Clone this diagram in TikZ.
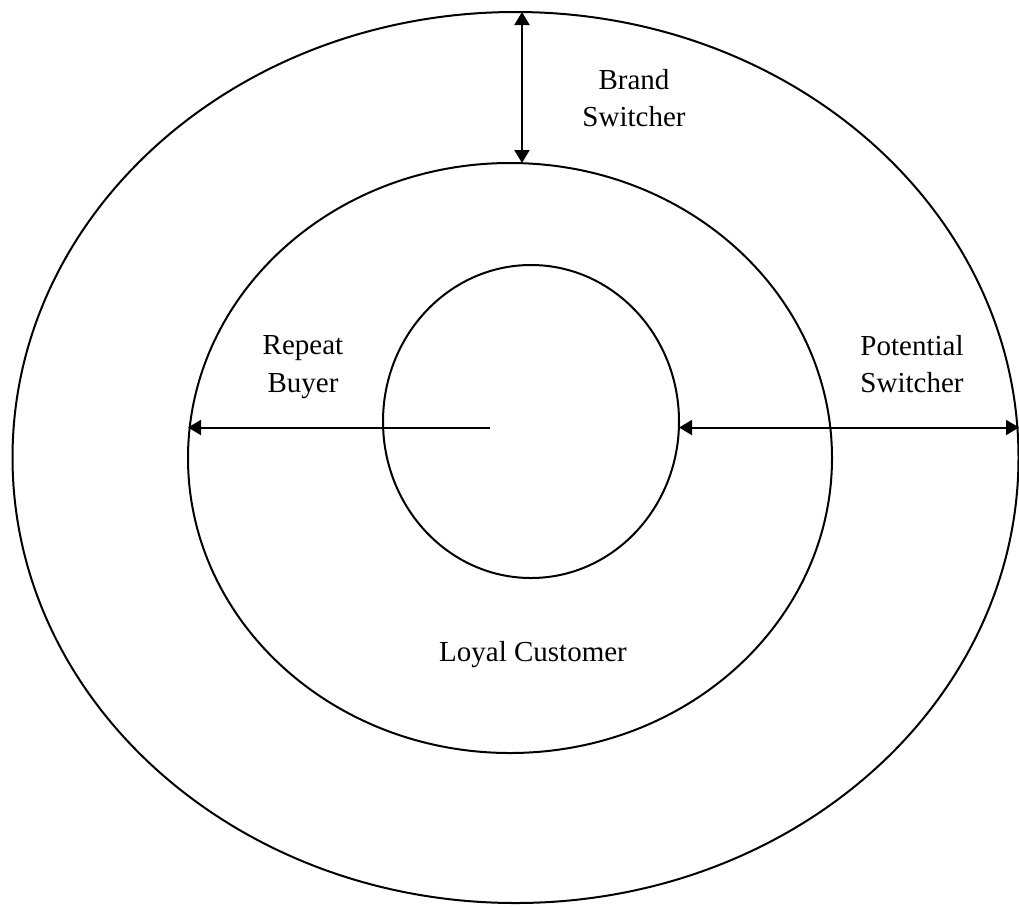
\documentclass[tikz,border=0pt]{standalone}
\usepackage{fontspec}
\setmainfont{Liberation Serif}
\usetikzlibrary{arrows.meta}
\begin{document}
\begin{tikzpicture}[x=1pt,y=-1pt,
  ring/.style={draw=black,line width=2pt},
  tip/.style={line width=2pt,arrows={-Triangle[length=13pt,width=15pt]}},
  bitip/.style={line width=2pt,arrows={Triangle[length=13pt,width=15pt]-Triangle[length=13pt,width=15pt]}},
  label/.style={inner sep=0pt,align=center,font=\fontsize{29}{37.5}\selectfont}]
\useasboundingbox (0,0) rectangle (1019,906);
% three nested rings
\draw[ring] (515.5,457.5) ellipse [x radius=503, y radius=445.5];
\draw[ring] (510,458) ellipse [x radius=322, y radius=295];
\draw[ring] (531,421.5) ellipse [x radius=148, y radius=156.5];
% arrow end points on the rings
\coordinate (outerTop) at (522,12);
\coordinate (midTop) at (522,163);
\coordinate (centre) at (490,427.5);
\coordinate (midLeft) at (188,427.5);
\coordinate (innerRight) at (679,427.5);
\coordinate (outerRight) at (1019,427.5);
\draw[bitip] (outerTop) -- (midTop);
\draw[tip] (centre) -- (midLeft);
\draw[bitip] (innerRight) -- (outerRight);
% ring labels
\node[label] (brand) at (634,98) {Brand\\Switcher};
\node[label] (repeat) at (303,367) {Repeat\\Buyer};
\node[label] (potential) at (912,364) {Potential\\Switcher};
\node[label] (loyal) at (533,654.5) {Loyal Customer};
\end{tikzpicture}
\end{document}
